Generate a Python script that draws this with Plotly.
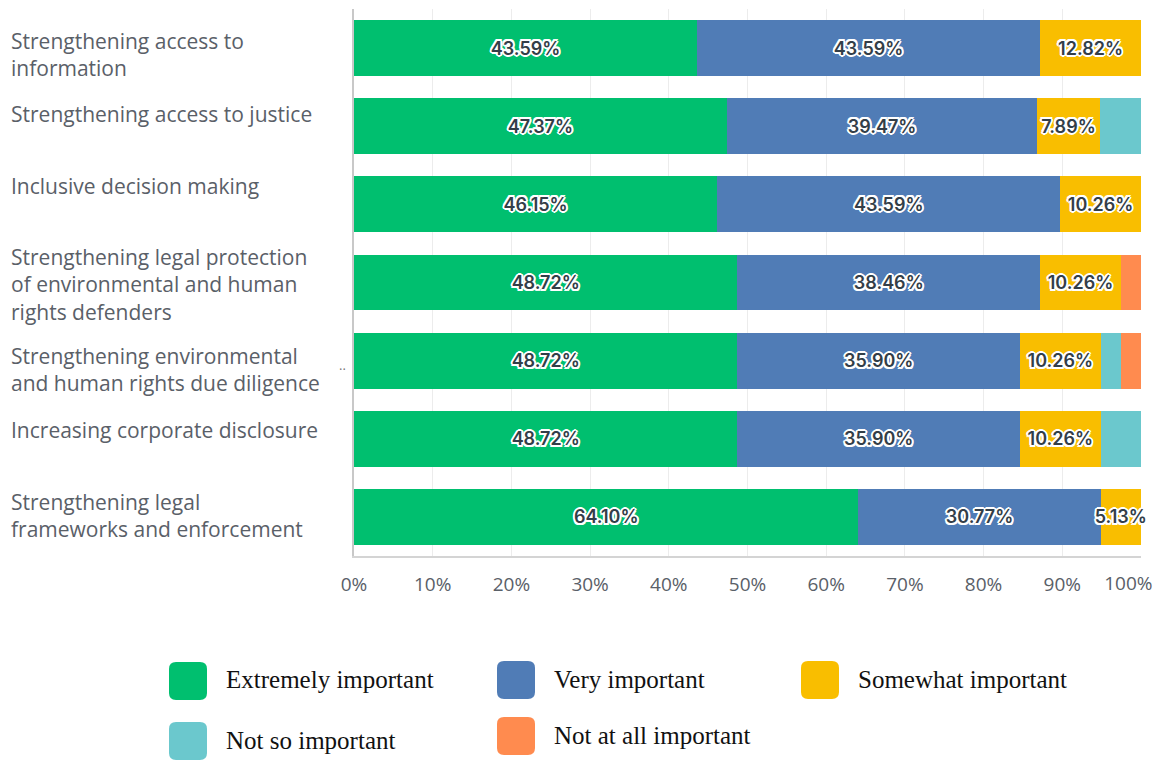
import plotly.graph_objects as go

# Survey items, top to bottom
categories = [
    "Strengthening access to information",
    "Strengthening access to justice",
    "Inclusive decision making",
    "Strengthening legal protection of environmental and human rights defenders",
    "Strengthening environmental and human rights due diligence",
    "Increasing corporate disclosure",
    "Strengthening legal frameworks and enforcement",
]
category_labels = [
    "Strengthening access to<br>information",
    "Strengthening access to justice",
    "Inclusive decision making",
    "Strengthening legal protection<br>of environmental and human<br>rights defenders",
    "Strengthening environmental<br>and human rights due diligence",
    "Increasing corporate disclosure",
    "Strengthening legal<br>frameworks and enforcement",
]

series_names = ["Extremely important", "Very important", "Somewhat important",
                "Not so important", "Not at all important"]
extremely = [43.59, 47.37, 46.15, 48.72, 48.72, 48.72, 64.10]
very = [43.59, 39.47, 43.59, 38.46, 35.90, 35.90, 30.77]
somewhat = [12.82, 7.89, 10.26, 10.26, 10.26, 10.26, 5.13]
not_so = [0.00, 5.26, 0.00, 0.00, 2.56, 5.13, 0.00]
not_at_all = [0.00, 0.00, 0.00, 2.56, 2.56, 0.00, 0.00]
series_values = [extremely, very, somewhat, not_so, not_at_all]
labelled = [True, True, True, False, False]

tick_values = list(range(0, 101, 10))
tick_labels = [f"{v}%" for v in tick_values]

colors = ["#00bf6f", "#507cb6", "#f9be00", "#6bc8cd", "#ff8b4f"]

W, H = 1163, 760
ML, MR, MT, MB = 354, 22, 9, 204
PW, PH = W - ML - MR, H - MT - MB
X_RANGE = [0, 100.001]


def px_x(x):
    return (x - ML) / PW


def px_y(y):
    return (H - MB - y) / PH


halo = ("2px 0 0 #ffffff, -2px 0 0 #ffffff, 0 2px 0 #ffffff, 0 -2px 0 #ffffff, "
        "1.5px 1.5px 0 #ffffff, -1.5px -1.5px 0 #ffffff, "
        "1.5px -1.5px 0 #ffffff, -1.5px 1.5px 0 #ffffff")

fig = go.Figure()
for name, vals, col, lab in zip(series_names, series_values, colors, labelled):
    text = [f"{v:.2f}%" if (lab and v > 0) else "" for v in vals]
    fig.add_trace(go.Bar(
        name=name, y=categories, x=vals, orientation="h",
        marker=dict(color=col, line=dict(width=0)),
        text=text, textposition="inside", insidetextanchor="middle",
        textangle=0, constraintext="none",
        textfont=dict(family="Inter, Open Sans, sans-serif", size=18,
                      color="#333e48", weight=600, shadow=halo),
        cliponaxis=False, showlegend=False,
    ))

# Empty trace that keeps the overlay axis (used for the last tick label) alive
fig.add_trace(go.Scatter(x=[None], y=[None], xaxis="x2", yaxis="y",
                         mode="markers", showlegend=False, hoverinfo="skip"))

# Category labels, left-aligned in the margin
row_shift = [-6, 12, 18, -2, -9, 9, 1]
annotations = []
for cat, lab, ys in zip(categories, category_labels, row_shift):
    annotations.append(dict(
        x=px_x(9), xref="paper", xanchor="left",
        y=cat, yref="y", yanchor="middle", yshift=ys,
        text=lab, showarrow=False, align="left",
        font=dict(family="Open Sans, sans-serif", size=21, color="#5a6068"),
    ))
annotations.append(dict(
    x=px_x(337), xref="paper", y=px_y(376), yref="paper",
    text="..", showarrow=False,
    font=dict(family="Open Sans, sans-serif", size=13, color="#777777"),
))

# Legend drawn as rounded swatches with serif labels
legend_pos = [(188, 681), (516, 680), (820, 680), (188, 741), (516, 736)]
shapes = []
r, s = 7, 19
path = (f"M {-s + r},{-s} L {s - r},{-s} Q {s},{-s} {s},{-s + r} "
        f"L {s},{s - r} Q {s},{s} {s - r},{s} L {-s + r},{s} "
        f"Q {-s},{s} {-s},{s - r} L {-s},{-s + r} Q {-s},{-s} {-s + r},{-s} Z")
for name, col, (cx, cy) in zip(series_names, colors, legend_pos):
    shapes.append(dict(
        type="path", xref="paper", yref="paper",
        xsizemode="pixel", ysizemode="pixel",
        xanchor=px_x(cx), yanchor=px_y(cy),
        path=path, fillcolor=col, line=dict(width=0), layer="above",
    ))
    annotations.append(dict(
        x=px_x(cx + 36), xref="paper", xanchor="left",
        y=px_y(cy - 1), yref="paper", yanchor="middle",
        text=name, showarrow=False,
        font=dict(family="Liberation Serif, Times New Roman, serif",
                  size=25, color="#111111"),
    ))

tick_font = dict(family="Open Sans, sans-serif", size=19, color="#5a6068")

fig.update_layout(
    width=W, height=H,
    margin=dict(l=ML, r=MR, t=MT, b=MB, pad=0, autoexpand=False),
    barmode="stack", bargap=0.285,
    plot_bgcolor="#ffffff", paper_bgcolor="#ffffff",
    showlegend=False,
    annotations=annotations, shapes=shapes,
    xaxis=dict(
        range=X_RANGE, tickvals=tick_values, ticktext=tick_labels[:-1] + [""],
        showgrid=True, gridcolor="#ececec", gridwidth=1,
        zeroline=False, showline=True, linecolor="#d4d4d4", linewidth=1.5,
        ticks="outside", ticklen=10, tickcolor="rgba(0,0,0,0)",
        tickfont=tick_font, automargin=False, fixedrange=True,
    ),
    # The 100% label sits just inside the right edge of the page
    xaxis2=dict(
        overlaying="x", anchor="y", side="bottom", range=X_RANGE,
        tickvals=tick_values[-1:], ticktext=tick_labels[-1:],
        ticklabelposition="outside left", ticklabelshift=12,
        ticklabelstandoff=10,
        showgrid=False, zeroline=False, showline=False,
        ticks="outside", ticklen=10, tickcolor="rgba(0,0,0,0)",
        tickfont=tick_font, automargin=False, fixedrange=True,
    ),
    yaxis=dict(
        categoryorder="array", categoryarray=categories,
        autorange="reversed", showticklabels=False,
        showline=True, linecolor="#c8c8c8", linewidth=1.5,
        showgrid=False, zeroline=False, ticks="", automargin=False,
    ),
)

fig.write_html("out.html")
